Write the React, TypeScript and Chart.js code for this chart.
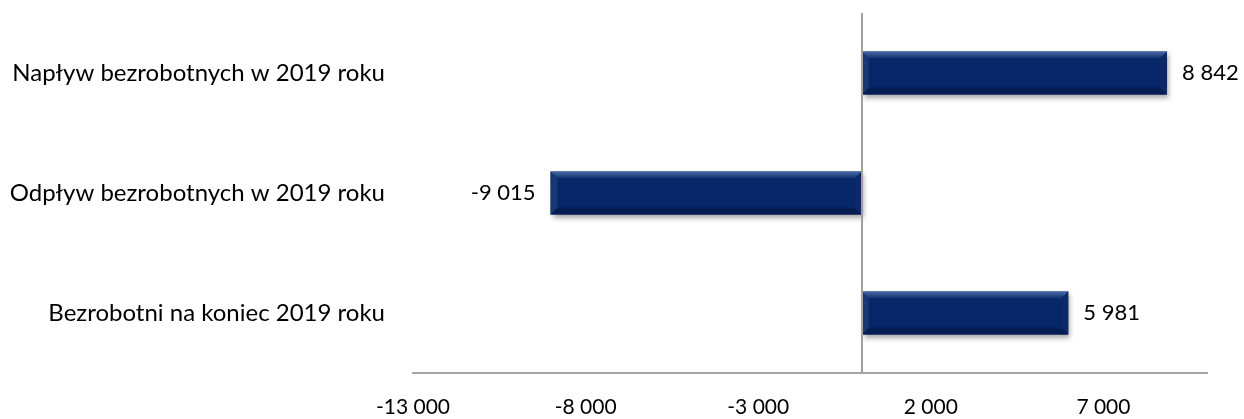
import React, { useEffect, useRef } from "react";
import { Chart, registerables } from "chart.js";

Chart.register(...registerables);

const categories: string[] = [
  "Napływ bezrobotnych w 2019 roku",
  "Odpływ bezrobotnych w 2019 roku",
  "Bezrobotni na koniec 2019 roku",
];
const values: number[] = [8842, -9015, 5981];
const xTicks: number[] = [-13000, -8000, -3000, 2000, 7000];
const xMin = -13000;
const xMax = 10000;

const FONT = "Lato, 'Open Sans', sans-serif";

const fmt = (v: number) => {
  const s = Math.abs(Math.round(v)).toString().replace(/\B(?=(\d{3})+(?!\d))/g, " ");
  return (v < 0 ? "-" : "") + s;
};

const bevelPlugin = {
  id: "bevel",
  beforeDatasetDraw(chart: any) {
    const ctx = chart.ctx;
    ctx.save();
    ctx.shadowColor = "rgba(0,0,0,0.35)";
    ctx.shadowBlur = 5;
    ctx.shadowOffsetX = 2;
    ctx.shadowOffsetY = 3;
  },
  afterDatasetDraw(chart: any) {
    const ctx = chart.ctx;
    ctx.restore();
    const meta = chart.getDatasetMeta(0);
    meta.data.forEach((bar: any) => {
      const l = Math.min(bar.x, bar.base);
      const r = Math.max(bar.x, bar.base);
      const t = bar.y - bar.height / 2;
      const btm = bar.y + bar.height / 2;
      const b = 7;
      ctx.save();
      const gTop = ctx.createLinearGradient(0, t, 0, t + b);
      gTop.addColorStop(0, "#4a6aa8");
      gTop.addColorStop(1, "#12326f");
      ctx.fillStyle = gTop;
      ctx.beginPath();
      ctx.moveTo(l, t);
      ctx.lineTo(r, t);
      ctx.lineTo(r - b, t + b);
      ctx.lineTo(l + b, t + b);
      ctx.closePath();
      ctx.fill();
      ctx.fillStyle = "#051d52";
      ctx.beginPath();
      ctx.moveTo(l, btm);
      ctx.lineTo(r, btm);
      ctx.lineTo(r - b, btm - b);
      ctx.lineTo(l + b, btm - b);
      ctx.closePath();
      ctx.fill();
      ctx.fillStyle = "#183775";
      ctx.beginPath();
      ctx.moveTo(l, t);
      ctx.lineTo(l + b, t + b);
      ctx.lineTo(l + b, btm - b);
      ctx.lineTo(l, btm);
      ctx.closePath();
      ctx.fill();
      ctx.fillStyle = "#0d2a66";
      ctx.beginPath();
      ctx.moveTo(r, t);
      ctx.lineTo(r - b, t + b);
      ctx.lineTo(r - b, btm - b);
      ctx.lineTo(r, btm);
      ctx.closePath();
      ctx.fill();
      ctx.restore();
    });
  },
};

const zeroLinePlugin = {
  id: "zeroLine",
  afterDatasetsDraw(chart: any) {
    const { ctx, chartArea, scales } = chart;
    const x0 = Math.round(scales.x.getPixelForValue(0));
    ctx.save();
    ctx.strokeStyle = "#a0a0a0";
    ctx.lineWidth = 2;
    ctx.beginPath();
    ctx.moveTo(x0, chartArea.top);
    ctx.lineTo(x0, chartArea.bottom);
    ctx.stroke();
    ctx.restore();
  },
};

const labelPlugin = {
  id: "barLabels",
  afterDatasetsDraw(chart: any) {
    const ctx = chart.ctx;
    const meta = chart.getDatasetMeta(0);
    ctx.save();
    ctx.font = `22px ${FONT}`;
    ctx.fillStyle = "#000";
    ctx.textBaseline = "middle";
    meta.data.forEach((bar: any, i: number) => {
      const v = values[i];
      if (v >= 0) {
        ctx.textAlign = "left";
        ctx.fillText(fmt(v), bar.x + 15, bar.y);
      } else {
        ctx.textAlign = "right";
        ctx.fillText(fmt(v), bar.x - 15, bar.y);
      }
    });
    ctx.restore();
  },
};

export default function App() {
  const ref = useRef<HTMLCanvasElement | null>(null);
  useEffect(() => {
    if (!ref.current) return;
    const chart = new Chart(ref.current, {
      type: "bar",
      data: {
        labels: categories,
        datasets: [
          {
            data: values,
            backgroundColor: "#08266a",
            borderWidth: 0,
            barPercentage: 0.36,
            categoryPercentage: 1,
          },
        ],
      },
      options: {
        indexAxis: "y",
        animation: false,
        responsive: false,
        maintainAspectRatio: false,
        layout: { padding: { top: 13, right: 37, left: 0, bottom: 0 } },
        plugins: { legend: { display: false }, tooltip: { enabled: false } },
        scales: {
          x: {
            min: xMin,
            max: xMax,
            afterBuildTicks: (scale: any) => {
              scale.ticks = xTicks.map((v) => ({ value: v }));
            },
            afterFit: (scale: any) => {
              scale.height = 46;
              scale.paddingLeft = 0;
              scale.paddingRight = 0;
            },
            grid: { display: false, drawTicks: false },
            border: { display: true, color: "#a6a6a6", width: 2 },
            ticks: {
              padding: 22,
              color: "#000",
              font: { family: FONT, size: 21 },
              callback: (v: any) => fmt(Number(v)),
              maxRotation: 0,
              autoSkip: false,
            },
          },
          y: {
            afterFit: (scale: any) => {
              scale.width = 413;
              scale.paddingTop = 0;
              scale.paddingBottom = 0;
            },
            grid: { display: false, drawTicks: false },
            border: { display: false },
            ticks: {
              padding: 28,
              color: "#000",
              font: { family: FONT, size: 24 },
            },
          },
        },
      },
      plugins: [bevelPlugin, zeroLinePlugin, labelPlugin],
    });
    return () => chart.destroy();
  }, []);
  return (
    <div style={{ position: "fixed", left: 0, top: 0, width: 1244, height: 419, background: "#fff" }}>
      <canvas ref={ref} width={1244} height={419} style={{ width: 1244, height: 419 }} />
    </div>
  );
}
